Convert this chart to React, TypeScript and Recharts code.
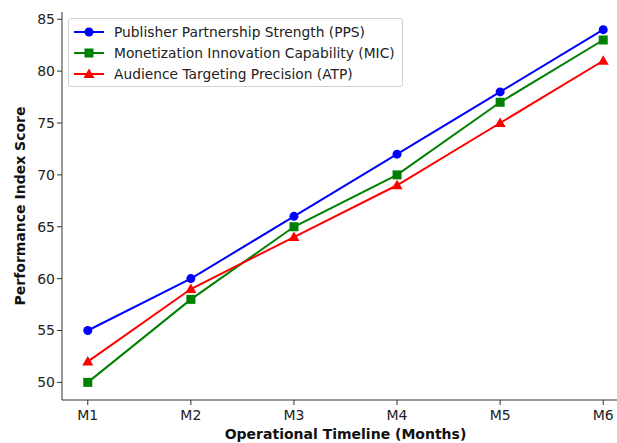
import React from "react";
import { LineChart, Line, XAxis, YAxis } from "recharts";

const MONTHS = ["M1", "M2", "M3", "M4", "M5", "M6"];
const PPS = [55, 60, 66, 72, 78, 84];
const MIC = [50, 58, 65, 70, 77, 83];
const ATP = [52, 59, 64, 69, 75, 81];
const Y_TICKS = [50, 55, 60, 65, 70, 75, 80, 85];

const SERIES = [
  { key: "pps", name: "Publisher Partnership Strength (PPS)", color: "#0000ff", shape: "circle" },
  { key: "mic", name: "Monetization Innovation Capability (MIC)", color: "#008000", shape: "square" },
  { key: "atp", name: "Audience Targeting Precision (ATP)", color: "#ff0000", shape: "triangle" },
];

const data = MONTHS.map((m, i) => ({ idx: i, month: m, pps: PPS[i], mic: MIC[i], atp: ATP[i] }));

const FONT = "'DejaVu Sans', sans-serif";

function Marker({ cx, cy, shape, color }: { cx: number; cy: number; shape: string; color: string }) {
  if (shape === "circle") return <circle cx={cx} cy={cy} r={4.5} fill={color} />;
  if (shape === "square") return <rect x={cx - 4.5} y={cy - 4.5} width={9} height={9} fill={color} />;
  return <polygon points={`${cx},${cy - 5.5} ${cx + 5.5},${cy + 4} ${cx - 5.5},${cy + 4}`} fill={color} />;
}

function makeDot(shape: string, color: string) {
  return (props: any) => {
    const { cx, cy, index } = props;
    if (cx == null || cy == null) return <g key={index} />;
    return <Marker key={index} cx={cx} cy={cy} shape={shape} color={color} />;
  };
}

function LegendBox() {
  return (
    <div
      style={{
        position: "absolute", left: 68, top: 18, width: 335, height: 69, boxSizing: "border-box",
        border: "1px solid #d0d0d0", borderRadius: 3, background: "rgba(255,255,255,0.8)",
        fontFamily: FONT, fontSize: 13.8, color: "#222",
      }}
    >
      {SERIES.map((s, i) => (
        <div key={s.key} style={{ position: "absolute", left: 4, top: 3 + i * 21, height: 20, display: "flex", alignItems: "center" }}>
          <svg width={32} height={14} style={{ marginRight: 9 }}>
            <line x1={1} y1={7} x2={31} y2={7} stroke={s.color} strokeWidth={2} />
            <Marker cx={16} cy={7} shape={s.shape} color={s.color} />
          </svg>
          <span style={{ whiteSpace: "nowrap" }}>{s.name}</span>
        </div>
      ))}
    </div>
  );
}

export default function App() {
  return (
    <div style={{ position: "absolute", left: 0, top: 0, width: 617, height: 443, overflow: "hidden", background: "#fff" }}>
      <LineChart width={640} height={443} data={data} margin={{ top: 12, right: 11, bottom: 0, left: 0 }}>
        <XAxis
          dataKey="idx"
          type="number"
          domain={[-0.25, 5.25]}
          ticks={[0, 1, 2, 3, 4, 5]}
          tickFormatter={(v: number) => MONTHS[v]}
          height={43}
          stroke="#333"
          tickLine={{ stroke: "#333" }}
          tickSize={5}
          tick={{ fontSize: 14, fill: "#222", fontFamily: FONT, dy: 3 }}
          label={{ value: "Operational Timeline (Months)", position: "insideBottom", offset: 0, dy: -4, style: { fontSize: 14, fontWeight: "bold", fill: "#111", fontFamily: FONT } }}
        />
        <YAxis
          type="number"
          domain={[48.3, 85.7]}
          ticks={Y_TICKS}
          allowDataOverflow
          width={62}
          stroke="#333"
          tickSize={5}
          tick={{ fontSize: 14, fill: "#222", fontFamily: FONT }}
          label={{ value: "Performance Index Score", angle: -90, position: "insideLeft", offset: 20, style: { textAnchor: "middle", fontSize: 14, fontWeight: "bold", fill: "#111", fontFamily: FONT } }}
        />
        {SERIES.map((s) => (
          <Line
            key={s.key}
            dataKey={s.key}
            name={s.name}
            stroke={s.color}
            strokeWidth={2}
            type="linear"
            dot={makeDot(s.shape, s.color)}
            activeDot={false}
            isAnimationActive={false}
          />
        ))}
      </LineChart>
      <LegendBox />
    </div>
  );
}
